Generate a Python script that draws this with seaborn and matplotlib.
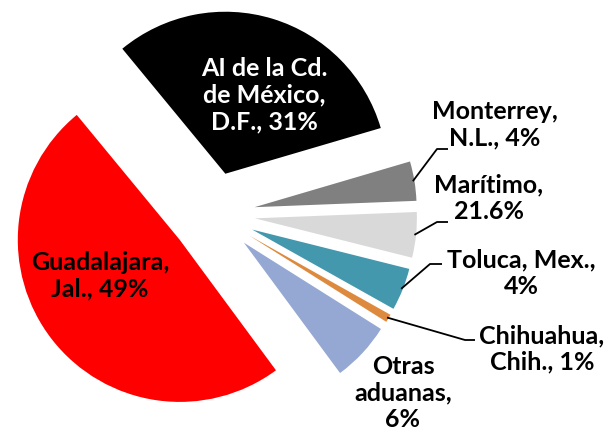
import numpy as np
import matplotlib
matplotlib.use("Agg")
import matplotlib.pyplot as plt
import seaborn as sns

sns.set_theme(style="white")
plt.rcParams['font.family'] = ['Lato', 'DejaVu Sans']

# datos (porcentajes, en sentido horario desde la Cd. de México)
aduanas = ["AI de la Cd.\nde México,\nD.F.", "Monterrey,\nN.L.", "Marítimo,", "Toluca, Mex.,",
           "Chihuahua,\nChih.", "Otras\naduanas,", "Guadalajara,\nJal."]
valores = [31.2, 3.9, 4.5, 4.2, 0.8, 5.9, 48.8]
etiquetas_pct = ["31%", "4%", "21.6%", "4%", "1%", "6%", "49%"]
colores = ["#000000", "#808080", "#D9D9D9", "#4398AE", "#DE8A3E", "#95A8D3", "#FF0000"]

W, H = 607, 435
CX, CY, R = 213, 215, 162   # centro y radio del pastel en píxeles
EXPLODE = 0.26

fig = plt.figure(figsize=(W / 100, H / 100), dpi=100)
ax = fig.add_axes([0, 0, 1, 1])

wedges, _ = ax.pie(valores, colors=colores, startangle=129.5, counterclock=False,
                   explode=[EXPLODE] * len(valores), radius=1,
                   wedgeprops=dict(linewidth=0))

ax.set_xlim(-CX / R, (W - CX) / R)
ax.set_ylim(-(H - CY) / R, CY / R)
ax.set_aspect("equal")
ax.axis("off")


def px(x, y):
    return (x - CX) / R, (CY - y) / R


# texto: (posición en píxeles, color, línea de enlace [codo, fin])
textos = [
    ((264, 95), "white", None),
    ((495, 125), "black", [(437, 150), (448, 150)]),
    ((489, 198), "black", [(437, 223), (448, 223)]),
    ((521, 273), "black", [(430, 265), (442, 265)]),
    ((542, 349), "black", [(465, 341), (475, 341)]),
    ((403, 393), "black", None),
    ((100, 276), "black", None),
]

for i, (w, nombre, pct) in enumerate(zip(wedges, aduanas, etiquetas_pct)):
    (tx, ty), col, lider = textos[i]
    if nombre.endswith(","):
        txt = nombre + "\n" + pct
    else:
        txt = nombre + ", " + pct
    x, y = px(tx, ty)
    ax.text(x, y, txt, ha="center", va="center", color=col, fontsize=18,
            fontweight="bold", linespacing=1.2)
    if lider is not None:
        ang = np.deg2rad((w.theta1 + w.theta2) / 2)
        r0 = 1 + EXPLODE - 0.01
        xs = [r0 * np.cos(ang)] + [px(*p)[0] for p in lider]
        ys = [r0 * np.sin(ang)] + [px(*p)[1] for p in lider]
        ax.plot(xs, ys, color="black", linewidth=1.3, solid_capstyle="butt")

fig.savefig("out.png", dpi=100)
